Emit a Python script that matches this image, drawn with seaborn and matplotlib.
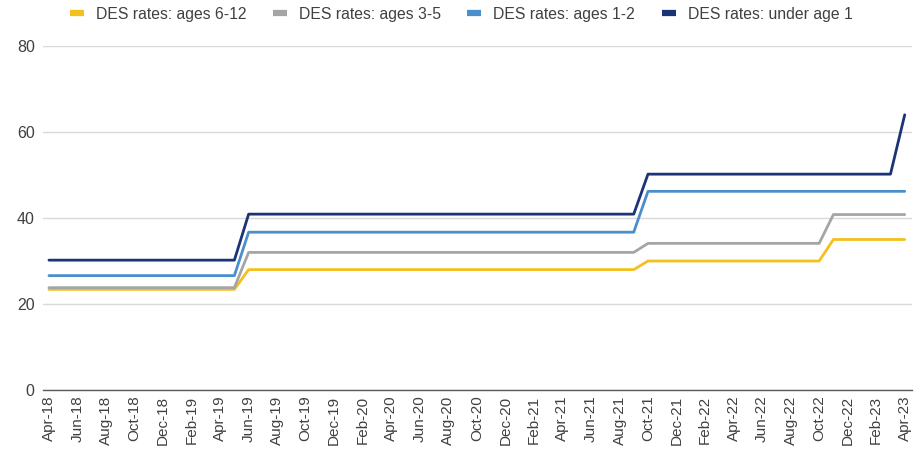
import pandas as pd
import numpy as np
import matplotlib.pyplot as plt
import seaborn as sns
from matplotlib.lines import Line2D

sns.set_style("white")
plt.rcParams['font.family'] = ['Liberation Sans', 'DejaVu Sans']

# monthly axis Apr-18 .. Apr-23
months = pd.date_range('2018-04-01', '2023-04-01', freq='MS')
month_labels = [m.strftime('%b-%y') for m in months]

# step values (value held from the given month index onward)
series_names = ['DES rates: ages 6-12', 'DES rates: ages 3-5',
                'DES rates: ages 1-2', 'DES rates: under age 1']
steps_6_12 = [(0, 23.4), (14, 28.0), (42, 30.0), (55, 35.0)]
steps_3_5 = [(0, 23.8), (14, 32.0), (42, 34.1), (55, 40.8)]
steps_1_2 = [(0, 26.6), (14, 36.7), (42, 46.2)]
steps_u1 = [(0, 30.2), (14, 40.9), (42, 50.2), (60, 64.0)]
colors = ['#F4C01E', '#A5A5A5', '#4A8FCB', '#1B3478']


def expand(steps):
    vals = []
    for i in range(len(months)):
        v = None
        for start, val in steps:
            if i >= start:
                v = val
        vals.append(v)
    return vals


rows = []
for name, steps in zip(series_names, [steps_6_12, steps_3_5, steps_1_2, steps_u1]):
    for i, v in enumerate(expand(steps)):
        rows.append({'idx': i, 'value': v, 'series': name})
df = pd.DataFrame(rows)

fig = plt.figure(figsize=(9.22, 4.5), dpi=100)
ax = fig.add_axes([0.0466, 0.1333, 0.9424, 0.7645])

sns.lineplot(data=df, x='idx', y='value', hue='series', hue_order=series_names,
             palette=colors, linewidth=2.0, ax=ax, legend=False)

ax.set_xlim(-0.42, 60.5)
ax.set_ylim(0, 80)
ax.set_yticks([0, 20, 40, 60, 80])
ax.set_xticks(range(0, len(months), 2))
ax.set_xticklabels(month_labels[::2], rotation=90, fontsize=11, color='#404040')
ax.tick_params(axis='y', labelsize=11.5, labelcolor='#404040', length=0, pad=6)
ax.tick_params(axis='x', length=0, pad=4)
ax.set_xlabel('')
ax.set_ylabel('')
ax.grid(True, axis='y', color='#D9D9D9', linewidth=1)
for s in ['top', 'right', 'left']:
    ax.spines[s].set_visible(False)
ax.spines['bottom'].set_color('#595959')
ax.spines['bottom'].set_linewidth(1)

handles = [Line2D([0], [0], color=c, linewidth=4.5, solid_capstyle='butt') for c in colors]
fig.legend(handles, series_names, loc='center', bbox_to_anchor=(0.5, 0.968), ncol=4,
           frameon=False, fontsize=11.3, handlelength=0.9, handletextpad=0.75,
           columnspacing=1.7, labelcolor='#404040')

fig.savefig('out.png', dpi=100)
